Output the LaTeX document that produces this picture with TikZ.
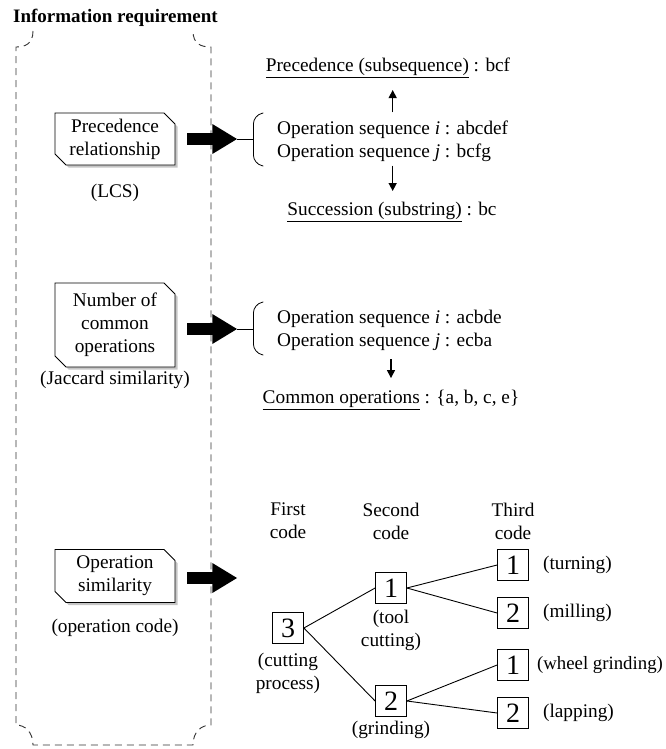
\documentclass[tikz,border=0pt]{standalone}
\usepackage{fontspec}
\setmainfont{Liberation Serif}
\usetikzlibrary{positioning,calc,shapes.misc,shadows,arrows.meta}

\tikzset{
    every node/.style={inner sep=0pt},
    reqbox/.style={chamfered rectangle, chamfered rectangle corners={north east,south west},
        chamfered rectangle xsep=8pt, draw, fill=white, line width=0.8pt,
        minimum width=120pt, align=center,
        drop shadow={shadow xshift=2.5pt,shadow yshift=-2.5pt,fill=black!45}},
    codebox/.style={draw, line width=0.8pt, minimum size=31pt, font=\fontsize{28}{30}\selectfont},
    bigarrow/.style={line width=12pt, -{Triangle[length=25pt,width=28pt]}},
    smallarrow/.style={line width=1.4pt, -{Triangle[length=8pt,width=8pt]}},
    frame/.style={dashed, dash pattern=on 7pt off 5pt, line width=0.9pt, black!80},
    treeline/.style={line width=0.9pt},
}

\begin{document}
\begin{tikzpicture}[x=1pt,y=-1pt,font=\fontsize{19.3}{23}\selectfont]
    \useasboundingbox (0,0) rectangle (665,749);

    % dashed frame
    \draw[frame] (33,31) .. controls (33,44) and (25,47) .. (16,47) -- (16,725)
        .. controls (25,725) and (33,732) .. (33,745) -- (193,745)
        .. controls (193,732) and (201,725) .. (211,725) -- (211,47)
        .. controls (201,47) and (193,44) .. (193,31);
    \node[anchor=west,font=\fontsize{19}{23}\selectfont\bfseries] (title) at (13,18) {Information requirement};

    % left column
    \node[reqbox, minimum height=52pt] (prec) at (115,139) {Precedence\\relationship};
    \node (lcs) at (115,193) {(LCS)};
    \node[reqbox, minimum height=84pt] (common) at (115,325) {Number of\\common\\operations};
    \node (jac) at (115,380) {(Jaccard similarity)};
    \node[reqbox, minimum height=53pt] (opsim) at (115,576) {Operation\\similarity};
    \node (opcode) at (115,628) {(operation code)};

    % precedence
    \draw[bigarrow] ($(prec.east)+(12,0)$) -- ++(50,0) coordinate (t1);
    \draw[line width=1pt] (t1) -- ++(16,0) coordinate (b1);
    \draw[line width=0.8pt, rounded corners=9pt] ($(b1)+(10,-26)$) -- ($(b1)+(0,-24)$)
        -- ($(b1)+(0,25)$) -- ($(b1)+(10,27)$);
    \node[anchor=west, align=left] (seq1) at (277,141)
        {Operation sequence \textit{i} : abcdef\\Operation sequence \textit{j} : bcfg};
    \node (prec1) at (388,68) {\underline{Precedence (subsequence)} : bcf};
    \node (succ1) at (392,212) {\underline{Succession (substring)} : bc};
    \draw[smallarrow, shorten <=8pt, shorten >=12pt] (seq1.north) -- (seq1.north |- prec1.south);
    \draw[smallarrow, shorten <=4pt, shorten >=11pt] (seq1.south) -- (seq1.south |- succ1.north);

    % common operations
    \draw[bigarrow] ($(common.east)+(12,4)$) -- ++(50,0) coordinate (t2);
    \draw[line width=1pt] (t2) -- ++(16,0) coordinate (b2);
    \draw[line width=0.8pt, rounded corners=9pt] ($(b2)+(10,-27)$) -- ($(b2)+(0,-25)$)
        -- ($(b2)+(0,24)$) -- ($(b2)+(10,26)$);
    \node[anchor=west, align=left] (seq2) at (277,330)
        {Operation sequence \textit{i} : acbde\\Operation sequence \textit{j} : ecba};
    \node (comops) at (391,400) {\underline{Common operations} : \{a, b, c, e\}};
    \draw[smallarrow, shorten <=9pt, shorten >=12pt] (seq2.south -| comops.north) -- (comops.north);

    % operation code
    \draw[bigarrow] ($(opsim.east)+(12,2)$) -- ++(50,0);
    \node[align=center] (first) at (288,521) {First\\code};
    \node[align=center] (second) at (391,521) {Second\\code};
    \node[align=center] (third) at (513,521) {Third\\code};

    \node[codebox] (c3) at (288,628) {3};
    \node[codebox] (c31) at (391,588) {1};
    \node[codebox] (c32) at (391,701) {2};
    \node[codebox] (c311) at (513,565) {1};
    \node[codebox] (c312) at (513,613) {2};
    \node[codebox] (c321) at (513,665) {1};
    \node[codebox] (c322) at (513,713) {2};

    \node[align=center, below=9pt of c3] (c3lab) {(cutting\\process)};
    \node[align=center, below=6pt of c31] (c31lab) {(tool\\cutting)};
    \node[below=4pt of c32] (c32lab) {(grinding)};
    \node[right=14pt of c311] (c311lab) {(turning)};
    \node[right=14pt of c312] (c312lab) {(milling)};
    \node[right=8pt of c321, font=\fontsize{18.8}{23}\selectfont] (c321lab) {(wheel grinding)};
    \node[right=14pt of c322] (c322lab) {(lapping)};

    \draw[treeline] (c3.east) -- (c31.west);
    \draw[treeline] (c3.east) -- (c32.west);
    \draw[treeline] (c31.east) -- (c311.west);
    \draw[treeline] (c31.east) -- (c312.west);
    \draw[treeline] (c32.east) -- (c321.west);
    \draw[treeline] (c32.east) -- (c322.west);
\end{tikzpicture}
\end{document}
